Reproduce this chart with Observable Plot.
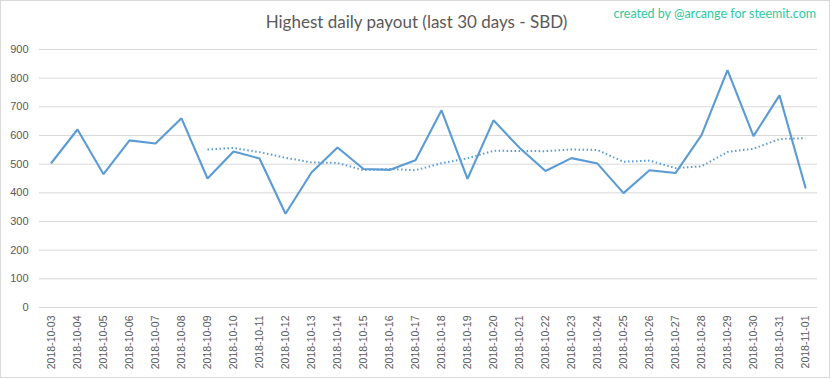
<!DOCTYPE html>
<html>
<head>
<meta charset="utf-8">
<script src="https://cdn.jsdelivr.net/npm/d3@7"></script>
<script src="https://cdn.jsdelivr.net/npm/@observablehq/plot@0.6"></script>
<style>
  body { margin: 0; background: #fff; }
  #wrap { position: relative; width: 833px; height: 379px; overflow: hidden; background: #fff; }
  #border { position: absolute; left: 0; top: 0; width: 830px; height: 378px; border: 1px solid #d9d9d9; box-sizing: border-box; pointer-events: none; }
  #title { position: absolute; left: 0; top: 10px; width: 833px; text-align: center; font-family: Lato, "Open Sans", sans-serif; font-size: 17px; line-height: 24px; color: #595959; }
  #credit { position: absolute; right: 17px; top: 6px; font-family: Lato, "Open Sans", sans-serif; font-size: 12.5px; line-height: 16px; color: #2dc9a0; }
  #chart { position: absolute; left: 0; top: 40px; }
</style>
</head>
<body>
<div id="wrap">
  <div id="title">Highest daily payout (last 30 days - SBD)</div>
  <div id="credit">created by @arcange for steemit.com</div>
  <div id="chart"></div>
  <div id="border"></div>
</div>
<script>
const dates = [
  "2018-10-03","2018-10-04","2018-10-05","2018-10-06","2018-10-07","2018-10-08",
  "2018-10-09","2018-10-10","2018-10-11","2018-10-12","2018-10-13","2018-10-14",
  "2018-10-15","2018-10-16","2018-10-17","2018-10-18","2018-10-19","2018-10-20",
  "2018-10-21","2018-10-22","2018-10-23","2018-10-24","2018-10-25","2018-10-26",
  "2018-10-27","2018-10-28","2018-10-29","2018-10-30","2018-10-31","2018-11-01"
];
const payouts = [
  505, 621, 465, 583, 572, 660,
  450, 544, 520, 327, 471, 558,
  483, 480, 514, 688, 449, 653,
  557, 476, 521, 502, 399, 479,
  469, 601, 828, 598, 740, 418
];
const yTicks = [0, 100, 200, 300, 400, 500, 600, 700, 800, 900];
const movingAverageWindow = 7;

const data = dates.map((d, i) => ({date: d, value: payouts[i]}));
const blue = "#5b9bd5";
const textColor = "#595959";

const chart = Plot.plot({
  width: 833,
  height: 339,
  marginTop: 9,
  marginBottom: 72,
  marginLeft: 39,
  marginRight: 16,
  style: { fontFamily: "'Liberation Sans', Arial, sans-serif", fontSize: "11px", color: textColor, background: "transparent" },
  x: { type: "point", domain: dates, padding: 0.25, label: null, axis: null },
  y: { domain: [0, 900], label: null, axis: null },
  marks: [
    Plot.ruleY(yTicks, { stroke: "#d9d9d9", strokeWidth: 1 }),
    Plot.axisY(yTicks, { tickSize: 0, tickPadding: 11, label: null, fontSize: 11, fill: textColor }),
    Plot.axisX(dates, { tickSize: 0, tickPadding: 8, tickRotate: -90, label: null, fontSize: 10.5, fill: textColor }),
    Plot.lineY(data, Plot.windowY({ k: movingAverageWindow, anchor: "end", strict: true }, {
      x: "date", y: "value", stroke: blue, strokeWidth: 2, strokeDasharray: "1.5 2.5", strokeLinecap: "butt"
    })),
    Plot.lineY(data, { x: "date", y: "value", stroke: blue, strokeWidth: 2.1, strokeLinejoin: "miter" })
  ]
});
document.getElementById("chart").appendChild(chart);
</script>
</body>
</html>
